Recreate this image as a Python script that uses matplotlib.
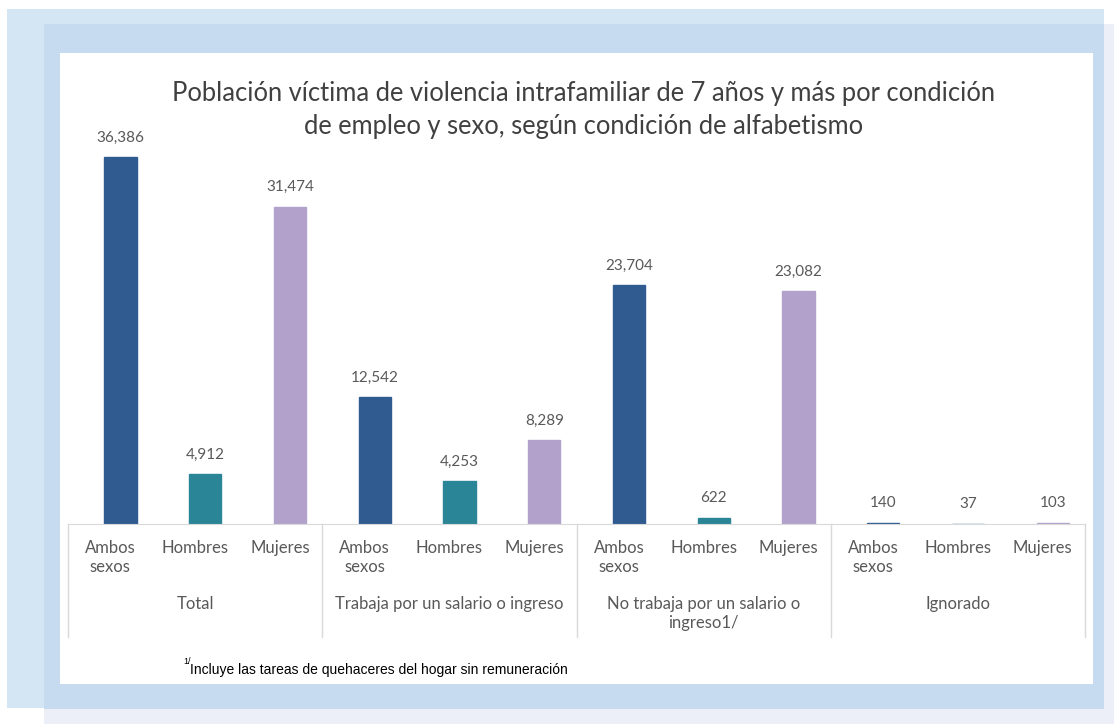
import matplotlib
matplotlib.use("Agg")
import matplotlib.pyplot as plt
from matplotlib.patches import Rectangle
from matplotlib import font_manager
import matplotlib.transforms as mtransforms

# ---- data ----
groups = ["Total", "Trabaja por un salario o ingreso",
          "No trabaja por un salario o\ningreso1/", "Ignorado"]
sexes = ["Ambos\nsexos", "Hombres", "Mujeres"]
ambos = [36386, 12542, 23704, 140]
hombres = [4912, 4253, 622, 37]
mujeres = [31474, 8289, 23082, 103]
title = ("Población víctima de violencia intrafamiliar de 7 años y más por condición\n"
         "de empleo y sexo, según condición de alfabetismo")
footnote = "Incluye las tareas de quehaceres del hogar sin remuneración"

colors = ["#2f5b91", "#2a8597", "#b2a2cb"]

available = {f.name for f in font_manager.fontManager.ttflist}
main_font = ["Lato", "DejaVu Sans"] if "Lato" in available else ["DejaVu Sans"]
narrow = "Liberation Sans Narrow" if "Liberation Sans Narrow" in available else "Liberation Sans"

W, H = 1114, 724
fig = plt.figure(figsize=(W / 100, H / 100), dpi=100)
fig.patch.set_facecolor("white")

def prect(x0, y0, x1, y1, color):
    fig.add_artist(Rectangle((x0 / W, 1 - y1 / H), (x1 - x0) / W, (y1 - y0) / H,
                             transform=fig.transFigure, facecolor=color,
                             edgecolor="none", zorder=-10))

prect(44, 24, 1114, 724, "#eceff8")
prect(7, 9, 1104, 708, "#d4e6f4")
prect(44, 24, 1104, 709, "#c6dbef")
prect(60, 53, 1093, 684, "white")

# axes placement
base_px, left_px, right_px = 524, 68, 1085
ymax = 40000
top_px = base_px - 367 * ymax / 36386
ax = fig.add_axes([left_px / W, 1 - base_px / H, (right_px - left_px) / W,
                   (base_px - top_px) / H])
ax.set_facecolor("none")
ax.set_xlim(-0.5, 11.5)
ax.set_ylim(0, ymax)
for s in ["top", "right", "left"]:
    ax.spines[s].set_visible(False)
ax.spines["bottom"].set_color("#d9d9d9")
ax.set_yticks([])
ax.set_xticks([])

offset = 0.12
bw = 0.38
series = [ambos, hombres, mujeres]
for si, vals in enumerate(series):
    xs = [g * 3 + si + offset for g in range(len(groups))]
    bars = ax.bar(xs, vals, width=bw, color=colors[si], edgecolor=colors[si],
                  linewidth=1.0)
    for b, v in zip(bars, vals):
        ax.annotate(f"{v:,}", (b.get_x() + b.get_width() / 2, v),
                    xytext=(0, 9), textcoords="offset points",
                    ha="center", va="bottom", fontsize=11, color="#595959",
                    family=main_font)

axh = base_px - top_px
def ay(px):
    return -(px - base_px) / axh

trans = mtransforms.blended_transform_factory(ax.transData, ax.transAxes)
for g in range(len(groups)):
    for si, lab in enumerate(sexes):
        ax.text(g * 3 + si, ay(540), lab, transform=trans, ha="center", va="top",
                fontsize=12, color="#595959", family=main_font, linespacing=1.25)
    ax.text(g * 3 + 1, ay(596), groups[g], transform=trans, ha="center",
            va="top", fontsize=12, color="#595959", family=main_font,
            linespacing=1.25)

for xb in [-0.5, 2.5, 5.5, 8.5, 11.5]:
    ax.plot([xb, xb], [0, ay(637)], transform=trans, color="#d9d9d9",
            linewidth=1, clip_on=False)

fig.text(583.5 / W, 1 - 110 / H, title, ha="center", va="center", fontsize=18.4,
         color="#404040", family=main_font, linespacing=1.38)

fig.text(183 / W, 1 - 662 / H, "1/", ha="left", va="center", fontsize=6.5,
         color="black", family=narrow)
fig.text(190 / W, 1 - 670 / H, footnote, ha="left", va="center", fontsize=10,
         color="black", family=narrow)

fig.savefig("out.png", dpi=100, facecolor=fig.get_facecolor())
